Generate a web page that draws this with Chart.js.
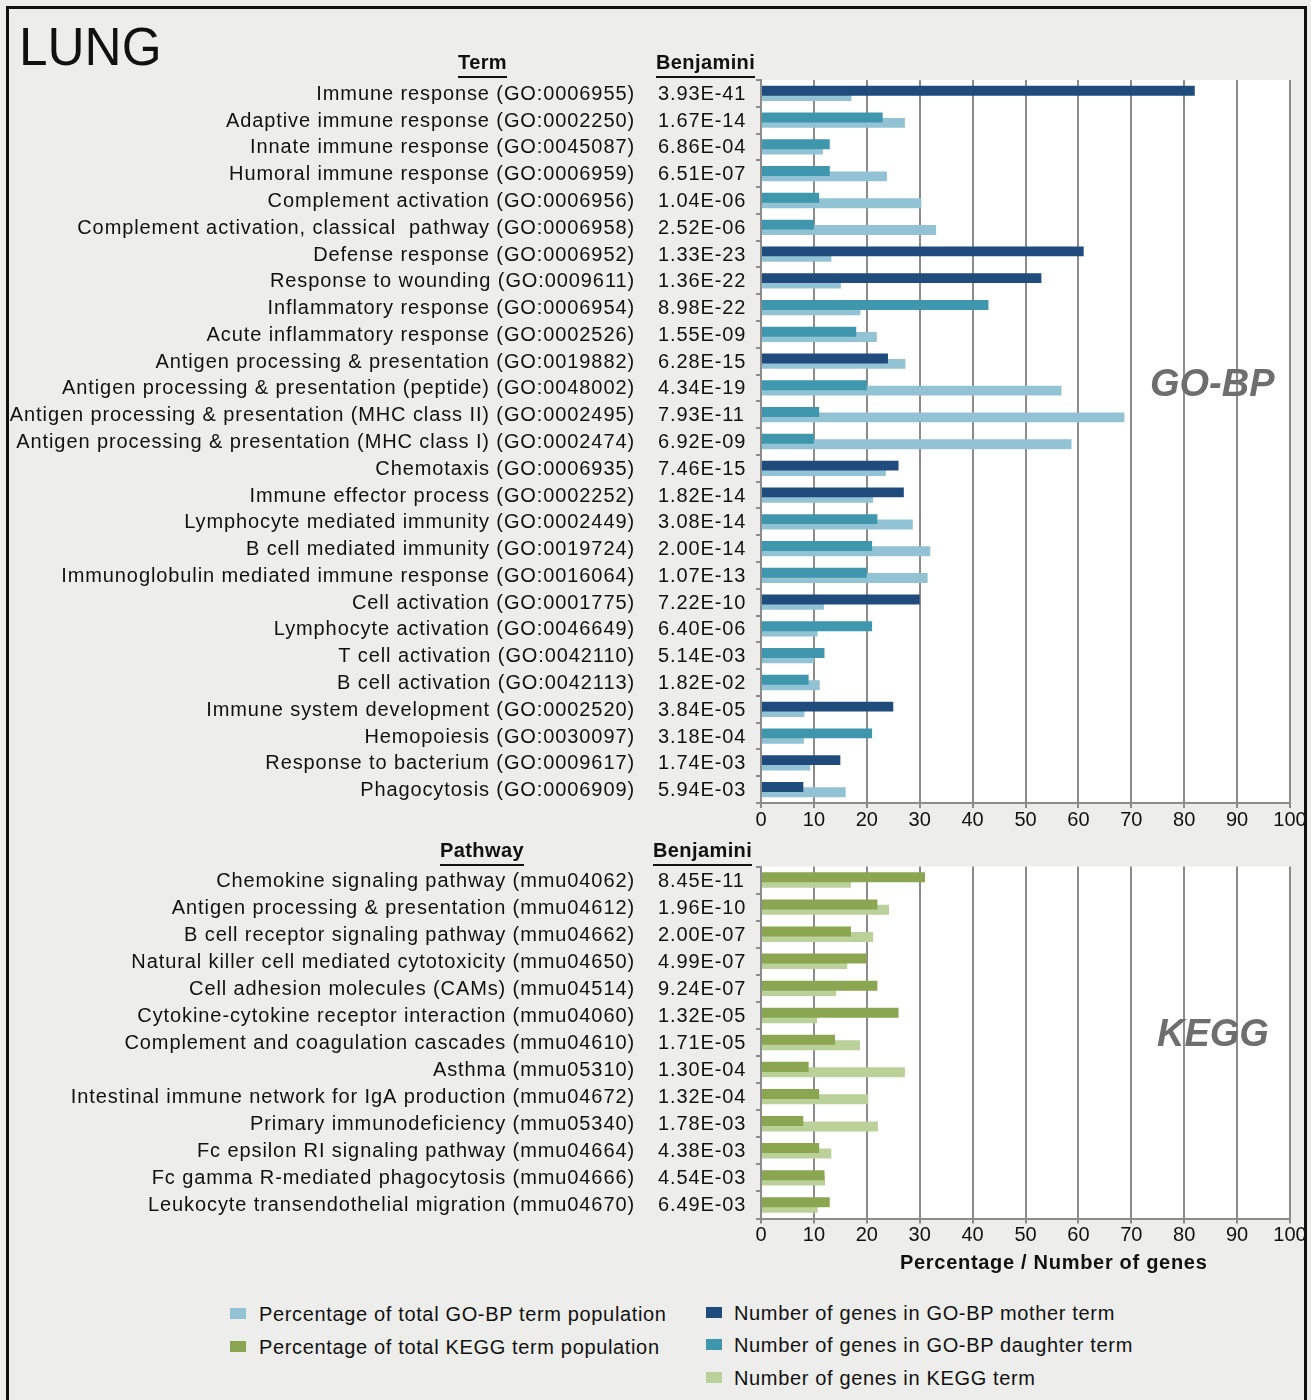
<!DOCTYPE html>
<html>
<head>
<meta charset="utf-8">
<script src="https://cdn.jsdelivr.net/npm/chart.js@4.4.1/dist/chart.umd.min.js"></script>
<style>
  body { margin: 0; background: #ededeb; }
  #frame { position: relative; width: 1311px; height: 1400px; background: #ededeb; overflow: hidden;
           font-family: "Liberation Sans", Arial, sans-serif; color: #111; }
  #border { position: absolute; left: 6px; top: 6px; width: 1301px; height: 1420px; border: 3px solid #111; box-sizing: border-box; }
  canvas { position: absolute; left: 0; }
  .t { position: absolute; white-space: nowrap; font-size: 20px; line-height: 20px; }
  .lg { letter-spacing: 0.65px; }
  .hdr { font-weight: bold; border-bottom: 2.5px solid #111; padding-bottom: 4px; letter-spacing: 0.4px; }
  .tag { position: absolute; font-weight: bold; font-style: italic; font-size: 38px; line-height: 38px; color: #6e6e6e; }
  .sw { position: absolute; width: 16px; height: 11px; }
</style>
</head>
<body>
<div id="frame">
  <div id="border"></div>
  <canvas id="goChart" width="1311" height="840" style="top:0"></canvas>
  <canvas id="keggChart" width="1311" height="430" style="top:840px"></canvas>

  <div class="t" style="left:19px;top:19px;font-size:54px;line-height:54px;transform:scaleX(0.95);transform-origin:left">LUNG</div>
  <div class="t hdr" style="left:458px;top:52px">Term</div>
  <div class="t hdr" style="left:656px;top:52px">Benjamini</div>
  <div class="t hdr" style="left:440px;top:840px">Pathway</div>
  <div class="t hdr" style="left:653px;top:840px">Benjamini</div>
  <div class="tag" style="left:1150px;top:364px">GO-BP</div>
  <div class="tag" style="left:1157px;top:1014px">KEGG</div>
  <div class="t" style="left:900px;top:1252px;font-weight:bold;letter-spacing:0.7px">Percentage / Number of genes</div>

  <div class="sw" style="left:230px;top:1308px;background:#92c3d5"></div>
  <div class="t lg" style="left:259px;top:1304px">Percentage of total GO-BP term population</div>
  <div class="sw" style="left:230px;top:1341px;background:#8aa650"></div>
  <div class="t lg" style="left:259px;top:1337px">Percentage of total KEGG term population</div>
  <div class="sw" style="left:706px;top:1307px;background:#1f4b7d"></div>
  <div class="t lg" style="left:734px;top:1303px">Number of genes in GO-BP mother term</div>
  <div class="sw" style="left:706px;top:1339px;background:#3f97ad"></div>
  <div class="t lg" style="left:734px;top:1335px">Number of genes in GO-BP daughter term</div>
  <div class="sw" style="left:706px;top:1372px;background:#bad199"></div>
  <div class="t lg" style="left:734px;top:1368px">Number of genes in KEGG term</div>
</div>

<script>
// GO-BP terms
const goTerms = [
  'Immune response (GO:0006955)',
  'Adaptive immune response (GO:0002250)',
  'Innate immune response (GO:0045087)',
  'Humoral immune response (GO:0006959)',
  'Complement activation (GO:0006956)',
  'Complement activation, classical  pathway (GO:0006958)',
  'Defense response (GO:0006952)',
  'Response to wounding (GO:0009611)',
  'Inflammatory response (GO:0006954)',
  'Acute inflammatory response (GO:0002526)',
  'Antigen processing & presentation (GO:0019882)',
  'Antigen processing & presentation (peptide) (GO:0048002)',
  'Antigen processing & presentation (MHC class II) (GO:0002495)',
  'Antigen processing & presentation (MHC class I) (GO:0002474)',
  'Chemotaxis (GO:0006935)',
  'Immune effector process (GO:0002252)',
  'Lymphocyte mediated immunity (GO:0002449)',
  'B cell mediated immunity (GO:0019724)',
  'Immunoglobulin mediated immune response (GO:0016064)',
  'Cell activation (GO:0001775)',
  'Lymphocyte activation (GO:0046649)',
  'T cell activation (GO:0042110)',
  'B cell activation (GO:0042113)',
  'Immune system development (GO:0002520)',
  'Hemopoiesis (GO:0030097)',
  'Response to bacterium (GO:0009617)',
  'Phagocytosis (GO:0006909)'
];
const goBenjamini = ['3.93E-41','1.67E-14','6.86E-04','6.51E-07','1.04E-06','2.52E-06','1.33E-23','1.36E-22','8.98E-22',
  '1.55E-09','6.28E-15','4.34E-19','7.93E-11','6.92E-09','7.46E-15','1.82E-14','3.08E-14','2.00E-14','1.07E-13',
  '7.22E-10','6.40E-06','5.14E-03','1.82E-02','3.84E-05','3.18E-04','1.74E-03','5.94E-03'];
const goMother = [true,false,false,false,false,false,true,true,false,false,true,false,false,false,true,true,
  false,false,false,true,false,false,false,true,false,true,true];
const goGenes = [82,23,13,13,11,10,61,53,43,18,24,20,11,10,26,27,22,21,20,30,21,12,9,25,21,15,8];
const goPercent = [17.1,27.2,11.7,23.8,30.3,33.1,13.3,15.1,18.8,21.9,27.3,56.8,68.7,58.7,23.6,21.2,28.7,32.0,
  31.5,11.9,10.7,10.0,11.1,8.2,8.1,9.3,16.0];

// KEGG pathways
const keggTerms = [
  'Chemokine signaling pathway (mmu04062)',
  'Antigen processing & presentation (mmu04612)',
  'B cell receptor signaling pathway (mmu04662)',
  'Natural killer cell mediated cytotoxicity (mmu04650)',
  'Cell adhesion molecules (CAMs) (mmu04514)',
  'Cytokine-cytokine receptor interaction (mmu04060)',
  'Complement and coagulation cascades (mmu04610)',
  'Asthma (mmu05310)',
  'Intestinal immune network for IgA production (mmu04672)',
  'Primary immunodeficiency (mmu05340)',
  'Fc epsilon RI signaling pathway (mmu04664)',
  'Fc gamma R-mediated phagocytosis (mmu04666)',
  'Leukocyte transendothelial migration (mmu04670)'
];
const keggBenjamini = ['8.45E-11','1.96E-10','2.00E-07','4.99E-07','9.24E-07','1.32E-05','1.71E-05','1.30E-04',
  '1.32E-04','1.78E-03','4.38E-03','4.54E-03','6.49E-03'];
const keggGenes = [31,22,17,20,22,26,14,9,11,8,11,12,13];
const keggPercent = [17.0,24.2,21.2,16.3,14.2,10.6,18.7,27.2,20.3,22.1,13.3,12.1,10.7];

const xTicks = [0,10,20,30,40,50,60,70,80,90,100];

const FONT = '"Liberation Sans", Arial, sans-serif';
const GRID = '#8c8c8c';

// white plot background
const plotBg = {
  id: 'plotBg',
  beforeDraw(chart) {
    const { ctx, chartArea: a } = chart;
    ctx.save();
    ctx.fillStyle = '#fff';
    ctx.fillRect(a.left, a.top, a.right - a.left, a.bottom - a.top);
    ctx.restore();
  }
};

// term + Benjamini columns, placed on the category scale
function rowLabels(terms, benj) {
  return {
    id: 'rowLabels',
    afterDraw(chart) {
      const ctx = chart.ctx, y = chart.scales.y;
      ctx.save();
      ctx.font = '20px ' + FONT;
      ctx.fillStyle = '#111';
      ctx.textBaseline = 'middle';
      ctx.letterSpacing = '0.9px';
      terms.forEach((t, i) => {
        const py = y.getPixelForValue(i) + 1;
        ctx.textAlign = 'right';
        ctx.fillText(t, 635, py);
        ctx.textAlign = 'left';
        ctx.fillText(benj[i], 658, py);
      });
      ctx.restore();
    }
  };
}

function barChart(id, terms, benj, upper, upperColor, lower, lowerColor, padTop, padBottom) {
  const bar = { categoryPercentage: 0.4, barPercentage: 1.85, borderWidth: 0 };
  return new Chart(document.getElementById(id), {
    type: 'bar',
    data: {
      labels: terms,
      datasets: [
        Object.assign({ data: upper, backgroundColor: upperColor }, bar),
        Object.assign({ data: lower, backgroundColor: lowerColor }, bar)
      ]
    },
    options: {
      indexAxis: 'y',
      responsive: false,
      animation: false,
      layout: { padding: { left: 754, right: 21, top: padTop, bottom: padBottom } },
      plugins: { legend: { display: false }, tooltip: { enabled: false } },
      scales: {
        x: {
          min: 0, max: 100,
          afterBuildTicks(s) { s.ticks = xTicks.map(v => ({ value: v })); },
          ticks: { color: '#111', font: { family: FONT, size: 20 }, padding: 0, maxRotation: 0, autoSkip: false },
          grid: { color: GRID, lineWidth: 2, tickLength: 5 },
          border: { color: GRID, width: 2 },
          afterFit(s) { s.height = 34; }
        },
        y: {
          ticks: { display: false },
          grid: { drawOnChartArea: false, color: GRID, lineWidth: 2, tickLength: 5, offset: true },
          border: { color: GRID, width: 2 },
          afterFit(s) { s.width = 7; }
        }
      }
    },
    plugins: [plotBg, rowLabels(terms, benj)]
  });
}

barChart('goChart', goTerms, goBenjamini,
  goGenes, goMother.map(m => m ? '#1f4b7d' : '#3f97ad'),
  goPercent, '#92c3d5', 80, 3);

barChart('keggChart', keggTerms, keggBenjamini,
  keggGenes, '#8aa650',
  keggPercent, '#bad199', 26.5, 17.5);
</script>
</body>
</html>
